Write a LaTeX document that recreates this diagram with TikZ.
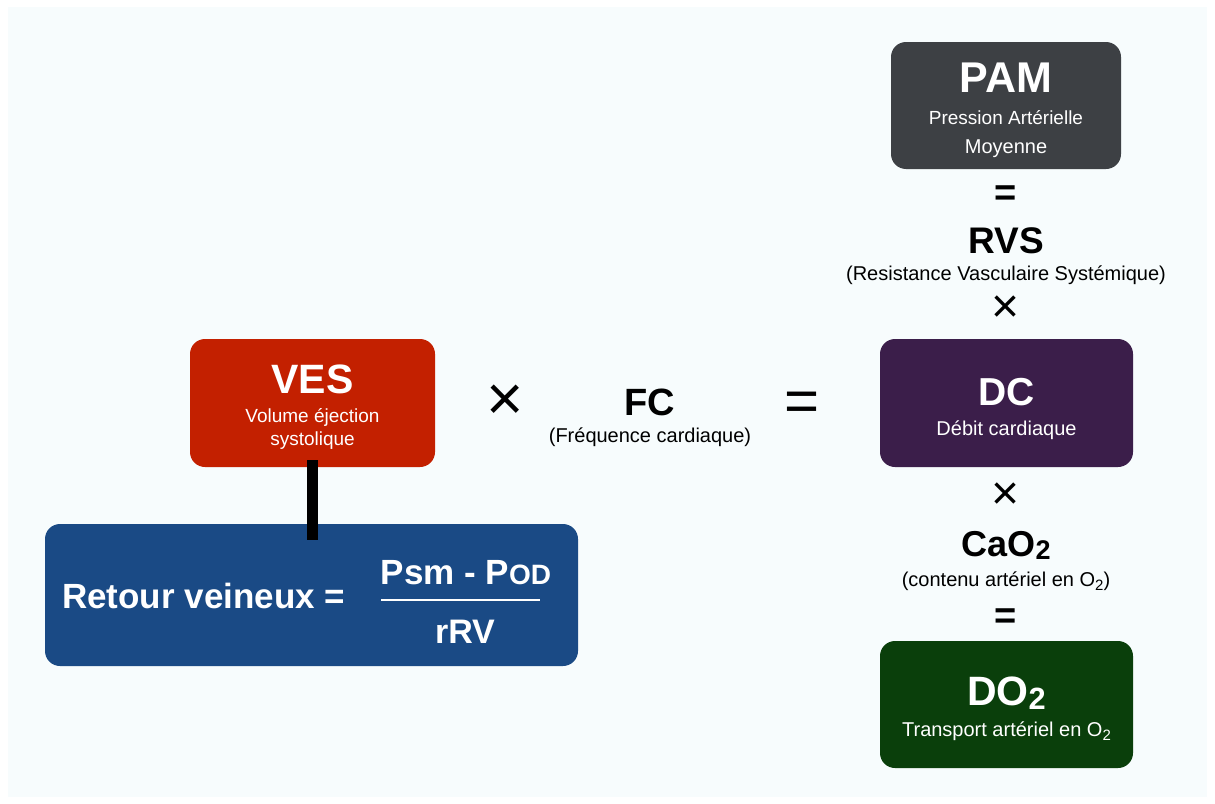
\documentclass[tikz,border=0pt]{standalone}
\usepackage{fontspec}
\setmainfont{Liberation Sans}
\definecolor{bgtint}{HTML}{F7FCFD}
\definecolor{pamgray}{HTML}{3D4044}
\definecolor{dcpurple}{HTML}{3B1E4A}
\definecolor{dogreen}{HTML}{0A3F0B}
\definecolor{vesred}{HTML}{C32000}
\definecolor{rvblue}{HTML}{1A4A85}
\newcommand{\fs}[1]{\fontsize{#1}{#1}\selectfont}
\newcommand{\lowtwo}{\raisebox{-0.2em}{\scalebox{0.75}{2}}}
\newcommand{\lowtwotitle}{\raisebox{-0.1em}{\scalebox{0.75}{2}}}
\begin{document}
\begin{tikzpicture}[x=1pt,y=-1pt,
  box/.style={rounded corners=15pt, inner sep=0pt, draw=none},
  ttl/.style={font=\bfseries\fs{41}, text=white, anchor=base, inner sep=0pt},
  subt/.style={font=\fs{19}, text=white, anchor=base, inner sep=0pt},
  btxt/.style={font=\bfseries\fs{37}, text=black, anchor=base, inner sep=0pt},
  ntxt/.style={font=\fs{20}, text=black, anchor=base, inner sep=0pt},
  op/.style={text=black, anchor=center, inner sep=0pt}]
\useasboundingbox (0,0) rectangle (1215,803);
\fill[white] (0,0) rectangle (1215,803);
\fill[bgtint] (8,7) rectangle (1207,797);

% boxes
\node[box, fill=pamgray, minimum width=230pt, minimum height=127pt] (PAM) at (1006,105.5) {};
\node[box, fill=dcpurple, minimum width=253pt, minimum height=128pt] (DC) at (1006.5,403) {};
\node[box, fill=dogreen, minimum width=253pt, minimum height=127pt] (DO) at (1006.5,704.5) {};
\node[box, fill=vesred, minimum width=245pt, minimum height=128pt] (VES) at (312.5,403) {};
\node[box, fill=rvblue, minimum width=533pt, minimum height=142pt] (RV) at (311.5,595) {};

% connector VES -- RV
\draw[line width=11pt, black] ([yshift=7pt]VES.south) -- ([yshift=-16pt]VES.south |- RV.north);

% PAM box text
\node[ttl, font=\bfseries\fs{43}] (pamt) at (1006,92) {PAM};
\node[subt] (pams1) at (1006,124) {Pression Artérielle};
\node[subt, font=\fs{20}] (pams2) at (1006,153) {Moyenne};

\node[op, font=\bfseries\fs{38}] (eq1) at (1006,196) {=};
\node[btxt] (rvs) at (1006,253) {RVS};
\node[ntxt] (rvss) at (1006,280) {(Resistance Vasculaire Systémique)};
\node[op, font=\fs{48}] (x1) at (1006,309) {×};

% DC box text
\node[ttl, font=\bfseries\fs{39}] (dct) at (1006.5,405) {DC};
\node[subt, font=\fs{20}] (dcs) at (1006.5,435) {Débit cardiaque};

\node[op, font=\fs{48}] (x2) at (1006,496) {×};
\node[btxt, font=\bfseries\fs{36}] (cao) at (1006,556) {CaO\lowtwotitle};
\node[ntxt] (caos) at (1006,586) {(contenu artériel en O\lowtwo)};
\node[op, font=\bfseries\fs{38}] (eq2) at (1006,619) {=};

% DO2 box text
\node[ttl] (dot) at (1006.5,705) {DO\lowtwotitle};
\node[subt, font=\fs{20}] (dos) at (1006.5,736) {Transport artériel en O\lowtwo};

% VES box text
\node[ttl] (vest) at (312.5,393) {VES};
\node[subt] (vess1) at (312.5,422) {Volume éjection};
\node[subt] (vess2) at (312.5,445) {systolique};

% middle row
\node[op, font=\fs{64}] (x0) at (505,403) {×};
\node[btxt, font=\bfseries\fs{38}] (fc) at (650,415) {FC};
\node[ntxt] (fcs) at (650,442) {(Fréquence cardiaque)};
\node[op, font=\fs{60}] (eq0) at (802,407) {=};

% RV box text
\node[ttl, font=\bfseries\fs{35}, anchor=base west] (rvt) at (62,608) {Retour veineux =};
\node[ttl, font=\bfseries\fs{35}] (num) at (466,584) {Psm - P{\fs{28}OD}};
\coordinate (fl) at (381,600);
\coordinate (fr) at (540,600);
\draw[white, line width=2.5pt] (fl) -- (fr);
\node[ttl, font=\bfseries\fs{34}] (den) at (465,643) {rRV};
\end{tikzpicture}
\end{document}
